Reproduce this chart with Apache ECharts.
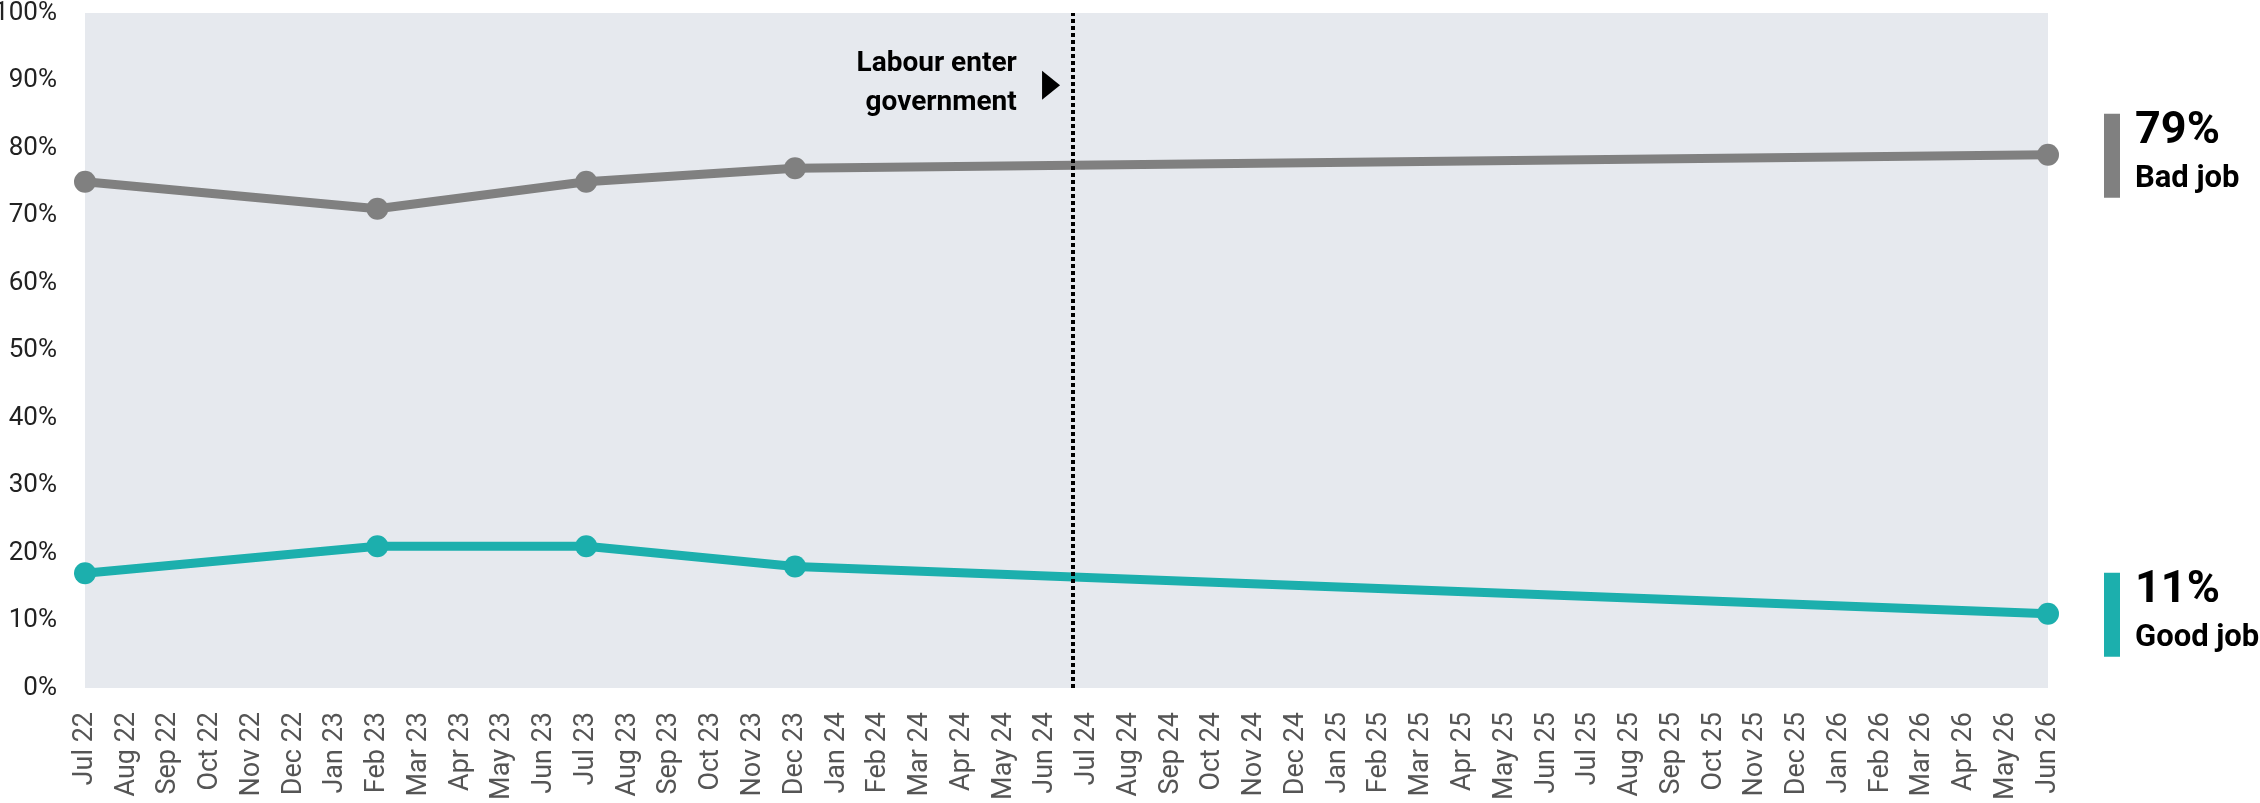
<!DOCTYPE html>
<html>
<head>
<meta charset="utf-8">
<script src="https://cdn.jsdelivr.net/npm/echarts@6/dist/echarts.min.js"></script>
<style>
html,body{margin:0;padding:0;background:#fff;}
#chart{width:2260px;height:803px;}
</style>
</head>
<body>
<div id="chart"></div>
<script>
const months = ['Jul 22','Aug 22','Sep 22','Oct 22','Nov 22','Dec 22','Jan 23','Feb 23','Mar 23','Apr 23','May 23','Jun 23',
  'Jul 23','Aug 23','Sep 23','Oct 23','Nov 23','Dec 23','Jan 24','Feb 24','Mar 24','Apr 24','May 24','Jun 24',
  'Jul 24','Aug 24','Sep 24','Oct 24','Nov 24','Dec 24','Jan 25','Feb 25','Mar 25','Apr 25','May 25','Jun 25',
  'Jul 25','Aug 25','Sep 25','Oct 25','Nov 25','Dec 25','Jan 26','Feb 26','Mar 26','Apr 26','May 26','Jun 26'];
const surveyMonths = ['Jul 22','Feb 23','Jul 23','Dec 23','Jun 26'];
const badJob = [75, 71, 75, 77, 79];
const goodJob = [17, 21, 21, 18, 11];
const yTicks = [0,10,20,30,40,50,60,70,80,90,100];
const eventPosition = 23.65; // early July 2024, month index
const eventLabel = ['Labour enter', 'government'];
const seriesNames = ['Bad job', 'Good job'];

const GREY = '#808080', TEAL = '#1CAFAD';
const FONT = 'Roboto';

const chart = echarts.init(document.getElementById('chart'));
const mk = vals => surveyMonths.map((m, i) => [m, vals[i]]);

chart.setOption({
  animation: false,
  grid: {left: 85, right: 212, top: 13, bottom: 115, show: true, backgroundColor: '#E6E9EE', borderWidth: 0,
         containLabel: false, outerBoundsMode: 'none'},
  xAxis: [{
    type: 'category', data: months, boundaryGap: false,
    axisLine: {show: false}, axisTick: {show: false}, splitLine: {show: false},
    axisLabel: {interval: 0, rotate: 90, margin: 24, fontFamily: FONT, fontSize: 27, color: '#555'}
  }, {
    type: 'value', min: 0, max: months.length - 1, show: false
  }],
  yAxis: {
    type: 'value', min: yTicks[0], max: yTicks[yTicks.length - 1], interval: yTicks[1] - yTicks[0],
    axisLine: {show: false}, axisTick: {show: false}, splitLine: {show: false},
    axisLabel: {formatter: '{value}%', margin: 28, fontFamily: FONT, fontSize: 26, color: '#222'}
  },
  series: [{
    name: seriesNames[0], type: 'line', data: mk(badJob), connectNulls: true,
    symbol: 'circle', symbolSize: 22, lineStyle: {color: GREY, width: 9}, itemStyle: {color: GREY}, z: 3
  }, {
    name: seriesNames[1], type: 'line', data: mk(goodJob), connectNulls: true,
    symbol: 'circle', symbolSize: 22, lineStyle: {color: TEAL, width: 9}, itemStyle: {color: TEAL}, z: 3
  }, {
    type: 'line', xAxisIndex: 1, data: [], z: 4,
    markLine: {
      silent: true, symbol: 'none', label: {show: false},
      lineStyle: {color: '#000', width: 4, type: [4, 3]},
      data: [{xAxis: eventPosition}]
    },
    markPoint: {
      silent: true, symbol: 'triangle', symbolSize: [29, 18], symbolRotate: -90,
      itemStyle: {color: '#000'}, label: {show: false},
      data: [{coord: [eventPosition - 0.52, 89.3]}]
    }
  }]
});

function drawGraphics() {
  const els = [];
  const evX = chart.convertToPixel({xAxisIndex: 1}, eventPosition);
  els.push({
    type: 'text', x: evX - 56, y: 44,
    style: {text: eventLabel.join('\n'), fill: '#000', font: 'bold 28px Roboto', align: 'right', verticalAlign: 'top', lineHeight: 39}
  });
  const ends = [[badJob, GREY, seriesNames[0], 0], [goodJob, TEAL, seriesNames[1], 1]];
  ends.forEach(([vals, col, name, si]) => {
    const last = vals[vals.length - 1];
    const p = chart.convertToPixel({seriesIndex: si}, [surveyMonths[surveyMonths.length - 1], last]);
    const bx = p[0] + 56;
    els.push({type: 'rect', shape: {x: bx, y: p[1] - 41, width: 16, height: 84}, style: {fill: col}});
    els.push({type: 'text', x: bx + 31, y: p[1] - 23,
      style: {text: last + '%', fill: '#000', font: 'bold 45px Roboto', align: 'left', verticalAlign: 'middle'}});
    els.push({type: 'text', x: bx + 31, y: p[1] + 24,
      style: {text: name, fill: '#000', font: 'bold 31px Roboto', align: 'left', verticalAlign: 'middle'}});
  });
  chart.setOption({graphic: els});
}
drawGraphics();
</script>
</body>
</html>
